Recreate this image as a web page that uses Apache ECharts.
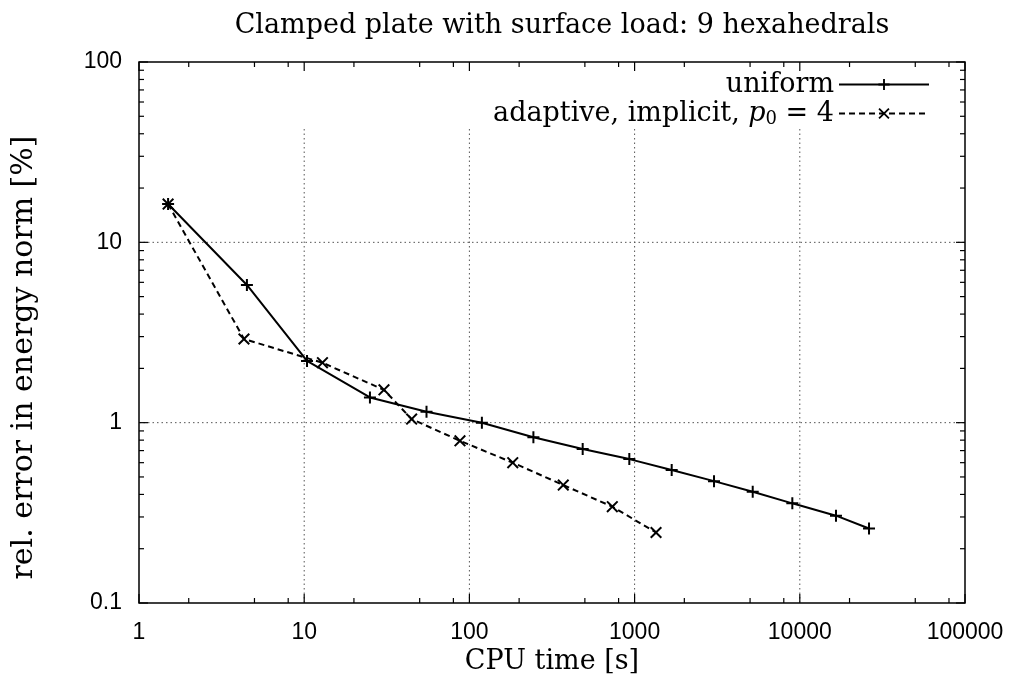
<!DOCTYPE html>
<html>
<head>
<meta charset="utf-8">
<script src="https://cdn.jsdelivr.net/npm/echarts@6/dist/echarts.min.js"></script>
<style>html,body{margin:0;padding:0;background:#fff}#c{width:1017px;height:689px}</style>
</head>
<body>
<div id="c"></div>
<script>
// ---- data ----
const seriesNames = ['uniform', 'adaptive, implicit, p0 = 4'];
const uniformTime = [1.5, 4.5, 10.4, 25, 55, 119, 244, 485, 929, 1677, 3025, 5188, 9010, 16560, 26240];
const uniformErr  = [16.3, 5.8, 2.2, 1.38, 1.15, 1.0, 0.83, 0.714, 0.628, 0.546, 0.474, 0.414, 0.357, 0.305, 0.259];
const adaptiveTime = [1.5, 4.32, 12.9, 30.4, 44.7, 87.7, 183, 370, 733, 1348];
const adaptiveErr  = [16.3, 2.91, 2.15, 1.52, 1.047, 0.793, 0.600, 0.451, 0.342, 0.246];
const xMajor = [1, 10, 100, 1000, 10000, 100000];
const xMinorFactors = [2, 5, 8];
const yMajor = [0.1, 1, 10, 100];
const yMinorFactors = [2, 3, 4, 5, 6, 7, 8, 9];
const xGrid = [10, 100, 1000, 10000];
const yGrid = [1, 10];
const xMin = 1, xMax = 100000, yMin = 0.1, yMax = 100;
const vGridTop = 43;

const serif = '"DejaVu Serif", "Liberation Serif", serif';
const sans = '"Liberation Sans", Arial, sans-serif';

const zip = (a, b) => a.map((v, i) => [v, b[i]]);

// tick items: [x, y, axis, major]
const tickItems = [];
xMajor.forEach(v => tickItems.push([v, 1, 0, 1]));
xMajor.slice(0, -1).forEach(d => xMinorFactors.forEach(f => tickItems.push([d * f, 1, 0, 0])));
yMajor.forEach(v => tickItems.push([10, v, 1, 1]));
yMajor.slice(0, -1).forEach(d => yMinorFactors.forEach(f => tickItems.push([10, d * f, 1, 0])));

const gridItems = [];
xGrid.forEach(v => gridItems.push([v, 1, 0]));
yGrid.forEach(v => gridItems.push([10, v, 1]));

const plusPath = 'path://M5,0H7V5H12V7H7V12H5V7H0V5H5Z';
const crossPath = 'path://M0,1.4L1.4,0L6,4.6L10.6,0L12,1.4L7.4,6L12,10.6L10.6,12L6,7.4L1.4,12L0,10.6L4.6,6Z';

const chart = echarts.init(document.getElementById('c'), null, {renderer: 'canvas'});
chart.setOption({
  animation: false,
  backgroundColor: '#fff',
  title: {
    text: 'Clamped plate with surface load: 9 hexahedrals',
    left: 557, top: 7, textAlign: 'center',
    textStyle: {fontFamily: serif, fontWeight: 'normal', fontSize: 27, color: '#000'}
  },
  grid: {left: 139, right: 52, top: 62, bottom: 86, show: true, borderColor: '#000', borderWidth: 1.5,
    backgroundColor: 'transparent', outerBoundsMode: 'none', containLabel: false},
  legend: {
    data: seriesNames,
    orient: 'vertical', align: 'right',
    right: 82, top: 66,
    itemWidth: 90, itemHeight: 14, itemGap: 2,
    textStyle: {
      fontFamily: serif, fontSize: 27, color: '#000',
      rich: {
        t: {fontFamily: serif, fontSize: 27, color: '#000', lineHeight: 30},
        i: {fontFamily: serif, fontSize: 27, fontStyle: 'italic', color: '#000', lineHeight: 30},
        s: {fontFamily: serif, fontSize: 18, color: '#000', lineHeight: 16, verticalAlign: 'bottom'}
      }
    },
    formatter: function (name) {
      if (name === seriesNames[1]) return '{t|adaptive, implicit, }{i|p}{s|0}{t| = 4}';
      return '{t|' + name + '}';
    }
  },
  xAxis: {
    type: 'log', logBase: 10, min: xMin, max: xMax,
    name: 'CPU time [s]', nameLocation: 'middle', nameGap: 44,
    nameTextStyle: {fontFamily: serif, fontSize: 27, color: '#000'},
    axisLine: {show: false}, axisTick: {show: false}, minorTick: {show: false},
    splitLine: {show: false},
    axisLabel: {fontFamily: sans, fontSize: 23, color: '#000', margin: 18, showMaxLabel: true, showMinLabel: true, hideOverlap: false,
      formatter: v => String(Math.round(v))}
  },
  yAxis: {
    type: 'log', logBase: 10, min: yMin, max: yMax,
    name: 'rel. error in energy norm [%]', nameLocation: 'middle', nameGap: 100, nameRotate: 90,
    nameTextStyle: {fontFamily: serif, fontSize: 30, color: '#000', padding: [0, 50, 0, 0]},
    axisLine: {show: false}, axisTick: {show: false}, minorTick: {show: false},
    splitLine: {show: false},
    axisLabel: {fontFamily: sans, fontSize: 23, color: '#000', margin: 17,
      formatter: v => String(+v.toPrecision(3))}
  },
  series: [
    {
      name: 'grid', type: 'custom', silent: true, clip: false, z: 1,
      data: gridItems,
      renderItem: function (params, api) {
        const axis = api.value(2);
        let p1, p2;
        if (axis === 0) { p1 = api.coord([api.value(0), yMin]); p2 = api.coord([api.value(0), vGridTop]); }
        else { p1 = api.coord([xMin, api.value(1)]); p2 = api.coord([xMax, api.value(1)]); }
        return {type: 'line', shape: {x1: p1[0], y1: p1[1], x2: p2[0], y2: p2[1]},
          style: {stroke: '#555', lineWidth: 1, lineDash: [1.5, 3]}};
      }
    },
    {
      name: 'ticks', type: 'custom', silent: true, clip: false, z: 3,
      data: tickItems,
      renderItem: function (params, api) {
        const axis = api.value(2), major = api.value(3);
        const len = major ? 9 : 5;
        const st = {stroke: '#000', lineWidth: 1.2};
        if (axis === 0) {
          const b = api.coord([api.value(0), yMin]), t = api.coord([api.value(0), yMax]);
          return {type: 'group', children: [
            {type: 'line', shape: {x1: b[0], y1: b[1], x2: b[0], y2: b[1] - len}, style: st},
            {type: 'line', shape: {x1: t[0], y1: t[1], x2: t[0], y2: t[1] + len}, style: st}
          ]};
        } else {
          const l = api.coord([xMin, api.value(1)]), r = api.coord([xMax, api.value(1)]);
          return {type: 'group', children: [
            {type: 'line', shape: {x1: l[0], y1: l[1], x2: l[0] + len, y2: l[1]}, style: st},
            {type: 'line', shape: {x1: r[0], y1: r[1], x2: r[0] - len, y2: r[1]}, style: st}
          ]};
        }
      }
    },
    {
      name: seriesNames[0], type: 'line', z: 5,
      data: zip(uniformTime, uniformErr),
      symbol: plusPath, symbolSize: 12, showAllSymbol: true,
      lineStyle: {color: '#000', width: 2, type: 'solid'},
      itemStyle: {color: '#000'}
    },
    {
      name: seriesNames[1], type: 'line', z: 5,
      data: zip(adaptiveTime, adaptiveErr),
      symbol: crossPath, symbolSize: 12, showAllSymbol: true,
      lineStyle: {color: '#000', width: 2, type: [6, 4]},
      itemStyle: {color: '#000'}
    }
  ]
});
</script>
</body>
</html>
